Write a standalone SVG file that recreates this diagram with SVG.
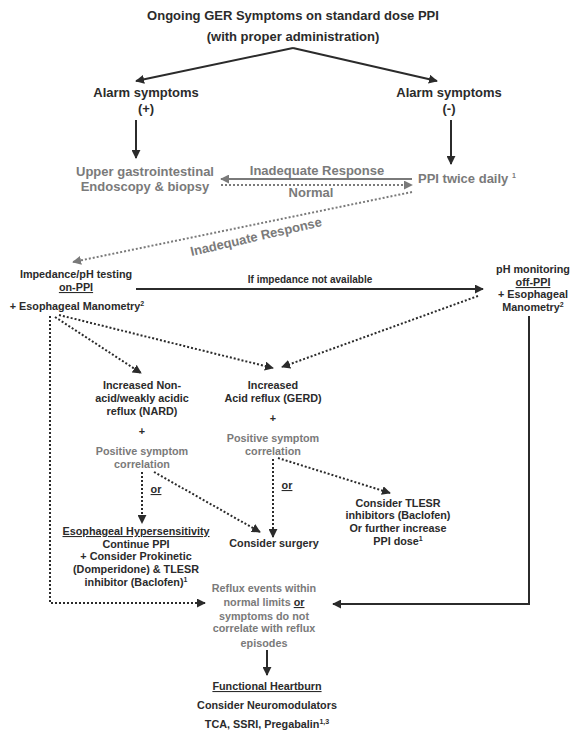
<svg xmlns="http://www.w3.org/2000/svg" width="572" height="749" viewBox="0 0 572 749">
<style>
text{font-family:"Liberation Sans",Arial,sans-serif;font-weight:bold;font-size:10.8px;fill:#2b2b2b;text-anchor:middle}
.g{fill:#7a7a7a}
.L{font-size:13px}
.s{font-size:10px}
.u{text-decoration:underline}
.sup{font-size:7px}
.solid{stroke:#2b2b2b;stroke-width:2;fill:none}
.gsolid{stroke:#7a7a7a;stroke-width:2;fill:none}
.dot{stroke:#2b2b2b;stroke-width:2;stroke-dasharray:2 2;fill:none}
.gdot{stroke:#7a7a7a;stroke-width:2;stroke-dasharray:2 2;fill:none}
</style>
<defs>
<marker id="a" viewBox="0 0 10 10" refX="9" refY="5" markerWidth="4.5" markerHeight="4.5" orient="auto" markerUnits="strokeWidth"><path d="M0,0 L10,5 L0,10 z" fill="#2b2b2b"/></marker>
<marker id="ag" viewBox="0 0 10 10" refX="9" refY="5" markerWidth="4.5" markerHeight="4.5" orient="auto" markerUnits="strokeWidth"><path d="M0,0 L10,5 L0,10 z" fill="#7a7a7a"/></marker>
</defs>
<rect width="572" height="749" fill="#ffffff"/>
<g id="connectors">
<path class="solid" d="M293,48 L136,81" marker-end="url(#a)"/>
<path class="solid" d="M293,48 L437,81" marker-end="url(#a)"/>
<path class="solid" d="M136,120 L136,158" marker-end="url(#a)"/>
<path class="solid" d="M451,120 L451,164" marker-end="url(#a)"/>
<path class="gsolid" d="M412,179 L221,179" marker-end="url(#ag)"/>
<path class="gdot" d="M221,185 L412,185" marker-end="url(#ag)"/>
<path class="gdot" d="M412,192 L73,262" marker-end="url(#ag)"/>
<path class="solid" d="M136,289 L483,289" marker-end="url(#a)"/>
<path class="dot" d="M50,316 L50,603 L205,603" marker-end="url(#a)"/>
<path class="dot" d="M55,317 L141,373" marker-end="url(#a)"/>
<path class="dot" d="M59,315 L273,368" marker-end="url(#a)"/>
<path class="dot" d="M478,296 L282,367" marker-end="url(#a)"/>
<path class="solid" d="M529,316 L529,604 L333,604" marker-end="url(#a)"/>
<path class="dot" d="M142,472 L142,523" marker-end="url(#a)"/>
<path class="dot" d="M154,472 L260,532" marker-end="url(#a)"/>
<path class="dot" d="M273,459 L273,537" marker-end="url(#a)"/>
<path class="dot" d="M278,458 L390,493" marker-end="url(#a)"/>
<path class="solid" d="M267,650 L267,675" marker-end="url(#a)"/>
</g>
<g id="start">
<text class="L" x="293" y="20">Ongoing GER Symptoms on standard dose PPI</text>
<text class="L" x="293" y="41">(with proper administration)</text>
</g>
<g id="alarm-pos">
<text class="L" x="146" y="97">Alarm symptoms</text>
<text class="L" x="146" y="113">(+)</text>
</g>
<g id="alarm-neg">
<text class="L" x="449" y="97">Alarm symptoms</text>
<text class="L" x="449" y="113">(-)</text>
</g>
<g id="endoscopy">
<text class="g L" x="145" y="176">Upper gastrointestinal</text>
<text class="g L" x="145" y="191">Endoscopy &amp; biopsy</text>
</g>
<g id="ppi-bid">
<text class="g L" x="418" y="183" style="text-anchor:start">PPI twice daily <tspan class="sup" dy="-5">1</tspan></text>
</g>
<g id="edge-labels">
<text class="g L" x="317" y="175">Inadequate Response</text>
<text class="g L" x="311" y="197">Normal</text>
<text class="g L" x="257" y="241" transform="rotate(-13 257 241)">Inadequate Response</text>
<text class="s" x="310" y="283">If impedance not available</text>
</g>
<g id="impedance">
<text x="76" y="278">Impedance/pH testing</text>
<text class="u" x="76" y="291">on-PPI</text>
<text x="77" y="310">+ Esophageal Manometry<tspan class="sup" dy="-4">2</tspan></text>
</g>
<g id="ph-monitoring">
<text x="533" y="273">pH monitoring</text>
<text class="u" x="533" y="286">off-PPI</text>
<text x="533" y="298">+ Esophageal</text>
<text x="533" y="311">Manometry<tspan class="sup" dy="-4">2</tspan></text>
</g>
<g id="nard">
<text x="142" y="389">Increased Non-</text>
<text x="142" y="402">acid/weakly acidic</text>
<text x="142" y="415">reflux (NARD)</text>
<text x="142" y="435">+</text>
<text class="g" x="142" y="455">Positive symptom</text>
<text class="g" x="142" y="468">correlation</text>
<text class="u" x="156" y="493">or</text>
</g>
<g id="gerd">
<text x="273" y="389">Increased</text>
<text x="273" y="402">Acid reflux (GERD)</text>
<text x="273" y="422">+</text>
<text class="g" x="273" y="442">Positive symptom</text>
<text class="g" x="273" y="455">correlation</text>
<text class="u" x="287" y="489">or</text>
</g>
<g id="hypersensitivity">
<text class="u" x="136" y="535">Esophageal Hypersensitivity</text>
<text x="136" y="548">Continue PPI</text>
<text x="136" y="560">+ Consider Prokinetic</text>
<text x="136" y="573">(Domperidone) &amp; TLESR</text>
<text x="136" y="586">inhibitor (Baclofen)<tspan class="sup" dy="-4">1</tspan></text>
</g>
<g id="surgery">
<text x="274" y="547">Consider surgery</text>
</g>
<g id="tlesr">
<text x="398" y="507">Consider TLESR</text>
<text x="398" y="519">inhibitors (Baclofen)</text>
<text x="398" y="532">Or further increase</text>
<text x="398" y="545">PPI dose<tspan class="sup" dy="-4">1</tspan></text>
</g>
<g id="normal-limits">
<text class="g" x="264" y="592">Reflux events within</text>
<text class="g" x="264" y="606">normal limits <tspan class="u" style="fill:#2b2b2b">or</tspan></text>
<text class="g" x="264" y="620">symptoms do not</text>
<text class="g" x="264" y="632">correlate with reflux</text>
<text class="g" x="264" y="647">episodes</text>
</g>
<g id="functional-heartburn">
<text class="u" x="267" y="690">Functional Heartburn</text>
<text x="267" y="709">Consider Neuromodulators</text>
<text x="267" y="728">TCA, SSRI, Pregabalin<tspan class="sup" dy="-4">1,3</tspan></text>
</g>
</svg>
